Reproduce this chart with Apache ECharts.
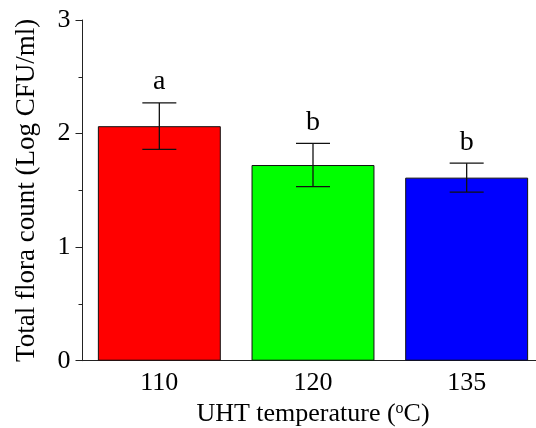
<!DOCTYPE html>
<html lang="en">
  <head>
    <meta charset="UTF-8" />
    <title>UHT temperature</title>
    <script src="https://cdn.jsdelivr.net/npm/echarts@6.0.0/dist/echarts.min.js"></script>
    <style>
      body { margin: 0; background: #fff; }
      #main { width: 536px; height: 428px; }
    </style>
  </head>
  <body>
    <div id="main"></div>
    <script>
      // values
      const temps = ["110", "120", "135"];
      const means = [2.065, 1.723, 1.612];
      const errs = [0.205, 0.19, 0.127];
      const letters = ["a", "b", "b"];
      const colors = ["#ff0000", "#00ff00", "#0000ff"];

      const font = "Liberation Serif";
      const chart = echarts.init(document.getElementById("main"));

      const axisColor = "#222";

      chart.setOption({
        animation: false,
        grid: { left: 82.5, right: -7.5, top: 20, bottom: 67.3, outerBoundsMode: "none" },
        xAxis: [
          {
            type: "category",
            data: temps,
            name: "UHT temperature ({sup|o}C)",
            nameLocation: "middle",
            nameGap: 38,
            nameTextStyle: {
              fontFamily: font, fontSize: 26, color: "#000",
              rich: { sup: { fontFamily: font, fontSize: 16, color: "#000", verticalAlign: "top", padding: [0, 0, 12, 0] } }
            },
            axisLine: { lineStyle: { color: axisColor, width: 1 } },
            axisTick: { alignWithLabel: true, length: 6, lineStyle: { color: axisColor } },
            axisLabel: { fontFamily: font, fontSize: 26, color: "#000", margin: 9 }
          },
          {
            // second axis only for the short ticks between categories
            type: "category",
            data: temps,
            position: "bottom",
            axisLine: { show: false },
            axisTick: { length: 4, lineStyle: { color: axisColor } },
            axisLabel: { show: false }
          }
        ],
        yAxis: {
          type: "value",
          min: 0, max: 3, interval: 1,
          name: "Total flora count (Log CFU/ml)",
          nameLocation: "middle",
          nameGap: 42,
          nameTextStyle: { fontFamily: font, fontSize: 27, color: "#000" },
          axisLine: { show: true, lineStyle: { color: axisColor, width: 1 } },
          axisTick: { show: true, length: 7, lineStyle: { color: axisColor } },
          minorTick: { show: true, splitNumber: 2, length: 4, lineStyle: { color: axisColor } },
          splitLine: { show: false },
          axisLabel: { fontFamily: font, fontSize: 26, color: "#000", margin: 12 }
        },
        series: [
          {
            type: "bar",
            barCategoryGap: "20%",
            data: means.map((v, i) => ({
              value: v,
              itemStyle: { color: colors[i], borderColor: "#111", borderWidth: 1 }
            }))
          },
          {
            type: "custom",
            z: 10,
            data: means.map((v, i) => [i, v, errs[i]]),
            renderItem: (params, api) => {
              const i = api.value(0);
              const m = api.value(1);
              const e = api.value(2);
              const top = api.coord([i, m + e]);
              const bot = api.coord([i, m - e]);
              const hw = 17;
              const st = { stroke: "#111", lineWidth: 1.3 };
              return {
                type: "group",
                children: [
                  { type: "line", shape: { x1: top[0], y1: top[1], x2: bot[0], y2: bot[1] }, style: st },
                  { type: "line", shape: { x1: top[0] - hw, y1: top[1], x2: top[0] + hw, y2: top[1] }, style: st },
                  { type: "line", shape: { x1: bot[0] - hw, y1: bot[1], x2: bot[0] + hw, y2: bot[1] }, style: st },
                  {
                    type: "text",
                    style: {
                      x: top[0], y: top[1] - 7,
                      text: letters[params.dataIndex],
                      fill: "#000",
                      font: "28px " + font,
                      align: "center",
                      verticalAlign: "bottom"
                    }
                  }
                ]
              };
            }
          }
        ]
      });
    </script>
  </body>
</html>
